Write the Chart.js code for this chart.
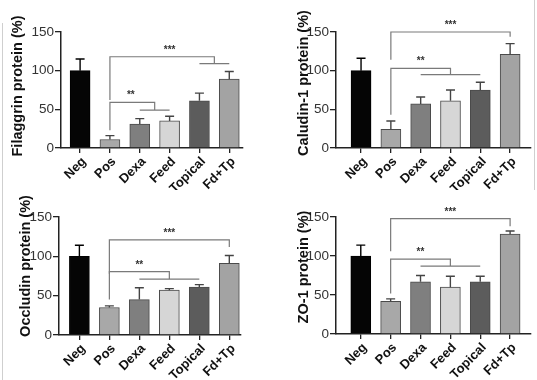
<!DOCTYPE html>
<html>
<head>
<meta charset="utf-8">
<script src="https://cdn.jsdelivr.net/npm/chart.js@4.4.1/dist/chart.umd.min.js"></script>
<style>
  body { margin: 0; background: #fff; }
  #wrap { position: relative; width: 537px; height: 380px; overflow: hidden; }
  canvas { position: absolute; }
  .edge { position: absolute; width: 1px; background: #cfcfcf; }
</style>
</head>
<body>
<div id="wrap">
  <canvas id="c1" width="268" height="190" style="left:0;top:0"></canvas>
  <canvas id="c2" width="269" height="190" style="left:268px;top:0"></canvas>
  <canvas id="c3" width="268" height="190" style="left:0;top:190px"></canvas>
  <canvas id="c4" width="269" height="190" style="left:268px;top:190px"></canvas>
  <div class="edge" style="left:2px;top:23px;height:357px"></div>
  <div class="edge" style="left:534px;top:0;height:190px"></div>
</div>
<script>
// groups on the x axis
const groups = ['Neg', 'Pos', 'Dexa', 'Feed', 'Topical', 'Fd+Tp'];
const yTicks = [0, 50, 100, 150];

// mean and upper error (SD) per group
const filaggrinMean = [100, 11, 31, 35, 61, 89];
const filaggrinErr  = [15, 5, 7, 6, 10, 10];
const claudinMean   = [100, 24, 57, 61, 75, 121];
const claudinErr    = [16, 11, 9, 14, 10, 14];
const occludinMean  = [100, 35, 45, 57, 61, 91];
const occludinErr   = [14, 2, 15, 2, 3, 10];
const zo1Mean       = [100, 42, 67, 60, 67, 128];
const zo1Err        = [14, 3, 8, 14, 7, 4];

// significance brackets: left leg at `from`, right end at one group or a span of groups
// top = bracket height, fromEnd = bottom of left leg, toEnd = bottom of right leg / span line
const filaggrinSig = [
  { stars: '***', from: 1, to: [4, 5], top: 118, fromEnd: 62, toEnd: 109, starAt: 3 },
  { stars: '**',  from: 1, to: [2, 3], top: 59,  fromEnd: 23, toEnd: 49, starAt: 1.7 }
];
const claudinSig = [
  { stars: '***', from: 1, to: [5], top: 150, fromEnd: 114, toEnd: 144, starAt: 3 },
  { stars: '**',  from: 1, to: [2, 4], top: 103, fromEnd: 43, toEnd: 95, starAt: 2 }
];
const occludinSig = [
  { stars: '***', from: 1, to: [5], top: 121, fromEnd: 78, toEnd: 112, starAt: 3 },
  { stars: '**',  from: 1, to: [2, 4], top: 80.5, fromEnd: 45, toEnd: 71, starAt: 2 }
];
const zo1Sig = [
  { stars: '***', from: 1, to: [5], top: 148, fromEnd: 106, toEnd: 138, starAt: 3 },
  { stars: '**',  from: 1, to: [2, 4], top: 96, fromEnd: 52, toEnd: 87, starAt: 2 }
];

const barFill   = ['#050505', '#a8a8a8', '#7f7f7f', '#d6d6d6', '#5c5c5c', '#a3a3a3'];
const barBorder = ['#000000', '#4a4a4a', '#4a4a4a', '#4a4a4a', '#4a4a4a', '#4a4a4a'];
const FONT = "'Liberation Sans', Arial, sans-serif";

function makePanel(id, title, means, errs, sig, box) {
  const canvas = document.getElementById(id);
  const W = canvas.width, H = canvas.height;

  const extras = {
    id: 'extras',
    afterDatasetsDraw(chart) {
      const ctx = chart.ctx;
      const xs = chart.scales.x, ys = chart.scales.y;
      ctx.save();
      // error bars (upper only)
      means.forEach((m, i) => {
        const x = xs.getPixelForValue(i);
        const y0 = ys.getPixelForValue(m);
        const y1 = ys.getPixelForValue(m + errs[i]);
        ctx.strokeStyle = i === 0 ? '#000' : '#444';
        ctx.lineWidth = 1.4;
        ctx.beginPath();
        ctx.moveTo(x, y0); ctx.lineTo(x, y1);
        ctx.moveTo(x - 4.5, y1); ctx.lineTo(x + 4.5, y1);
        ctx.stroke();
      });
      // brackets
      sig.forEach(b => {
        const xl = xs.getPixelForValue(b.from);
        const yt = ys.getPixelForValue(b.top);
        ctx.strokeStyle = '#7a7a7a';
        ctx.lineWidth = 1.2;
        ctx.beginPath();
        ctx.moveTo(xl, ys.getPixelForValue(b.fromEnd));
        ctx.lineTo(xl, yt);
        if (b.to.length === 1) {
          const xr = xs.getPixelForValue(b.to[0]);
          ctx.lineTo(xr, yt);
          ctx.lineTo(xr, ys.getPixelForValue(b.toEnd));
        } else {
          const xa = xs.getPixelForValue(b.to[0]);
          const xb = xs.getPixelForValue(b.to[1]);
          const xr = (xa + xb) / 2;
          const yg = ys.getPixelForValue(b.toEnd);
          ctx.lineTo(xr, yt);
          ctx.lineTo(xr, yg);
          ctx.moveTo(xa, yg);
          ctx.lineTo(xb, yg);
        }
        ctx.stroke();
        ctx.fillStyle = '#333';
        ctx.font = 'bold 10px ' + FONT;
        ctx.textAlign = 'center';
        ctx.textBaseline = 'alphabetic';
        ctx.fillText(b.stars, xs.getPixelForValue(b.starAt), yt - 4);
      });
      // y axis title
      ctx.translate(box.titleX, box.titleY);
      ctx.rotate(-Math.PI / 2);
      ctx.fillStyle = '#111';
      ctx.font = 'bold 14.5px ' + FONT;
      ctx.textAlign = 'center';
      ctx.textBaseline = 'middle';
      ctx.fillText(title, 0, 0);
      ctx.restore();
    }
  };

  return new Chart(canvas, {
    type: 'bar',
    data: {
      datasets: [{
        data: means.map((v, i) => ({ x: i, y: v })),
        backgroundColor: barFill,
        borderColor: barBorder,
        borderWidth: 1,
        barThickness: 20
      }]
    },
    options: {
      responsive: false,
      animation: false,
      layout: { padding: { left: 0, right: W - box.right, top: box.top, bottom: 0 } },
      plugins: { legend: { display: false }, tooltip: { enabled: false } },
      scales: {
        x: {
          type: 'linear',
          offset: false,
          min: box.xMin,
          max: box.xMax,
          afterBuildTicks: s => { s.ticks = groups.map((g, i) => ({ value: i })); },
          afterFit: s => { s.height = H - box.bottom; },
          ticks: {
            callback: v => groups[v],
            autoSkip: false,
            minRotation: 45,
            maxRotation: 45,
            padding: 1,
            labelOffset: 4,
            color: '#111',
            font: { family: FONT, size: 13, weight: 'bold' }
          },
          grid: { offset: false, drawOnChartArea: false, drawTicks: true, tickLength: 5, color: '#222', lineWidth: 1.3 },
          border: { color: '#222', width: 1.5 }
        },
        y: {
          min: 0,
          max: 150,
          afterBuildTicks: s => { s.ticks = yTicks.map(v => ({ value: v })); },
          afterFit: s => { s.width = box.left; },
          ticks: { padding: 1, color: '#333', font: { family: FONT, size: 13.5 } },
          grid: { drawOnChartArea: false, drawTicks: true, tickLength: 6, color: '#222', lineWidth: 1.3 },
          border: { color: '#222', width: 1.5 }
        }
      }
    },
    plugins: [extras]
  });
}

makePanel('c1', 'Filaggrin protein (%)', filaggrinMean, filaggrinErr, filaggrinSig,
  { left: 61, right: 243, top: 32, bottom: 148, xMin: -0.64, xMax: 5.46, titleX: 18, titleY: 86 });
makePanel('c2', 'Caludin-1 protein (%)', claudinMean, claudinErr, claudinSig,
  { left: 68, right: 263, top: 32, bottom: 148, xMin: -0.84, xMax: 5.7, titleX: 36, titleY: 83 });
makePanel('c3', 'Occludin protein (%)', occludinMean, occludinErr, occludinSig,
  { left: 59, right: 241, top: 27, bottom: 145, xMin: -0.68, xMax: 5.39, titleX: 26, titleY: 76 });
makePanel('c4', 'ZO-1 protein (%)', zo1Mean, zo1Err, zo1Sig,
  { left: 68, right: 263, top: 27, bottom: 144, xMin: -0.83, xMax: 5.7, titleX: 36, titleY: 77 });
</script>
</body>
</html>
